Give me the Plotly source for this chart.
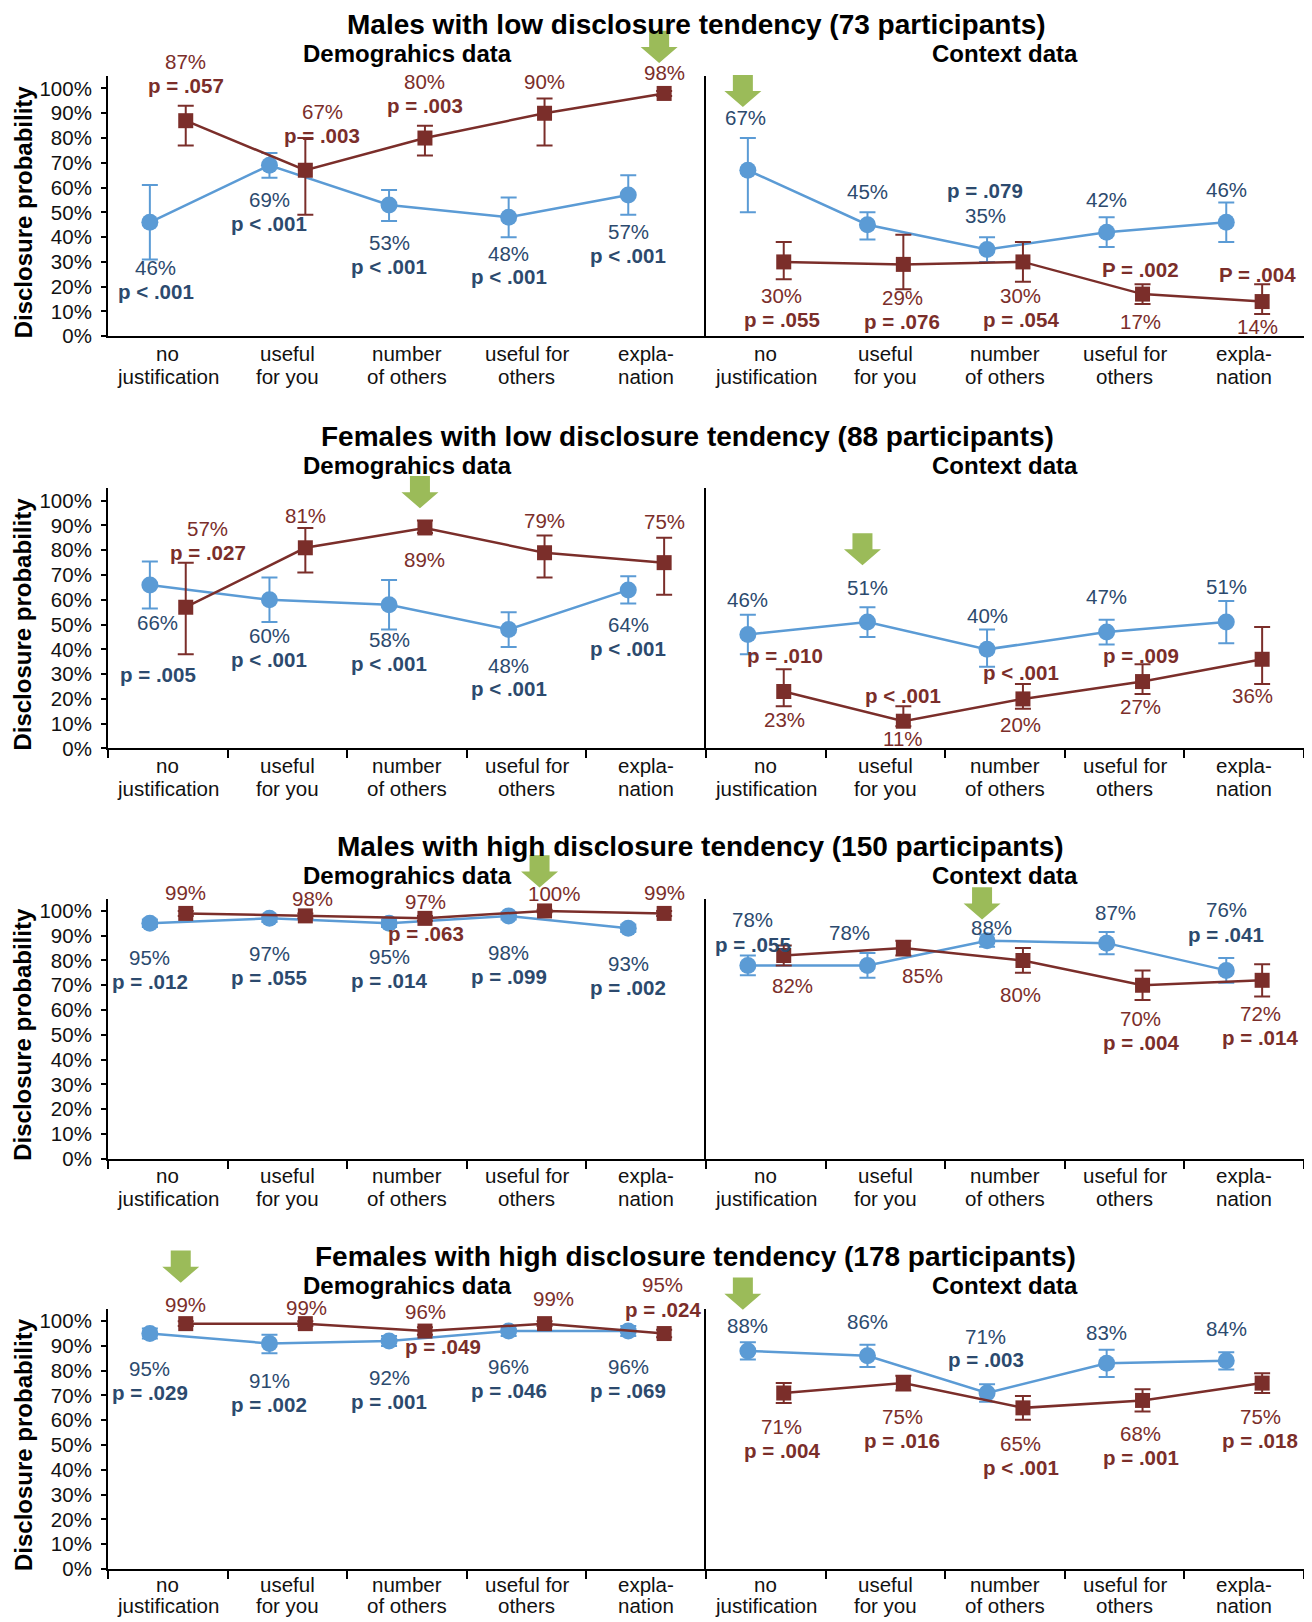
import plotly.graph_objects as go

# ---------------- data ----------------
CATEGORY_LINES = [("no", "justification"), ("useful", "for you"), ("number", "of others"),
                  ("useful for", "others"), ("expla-", "nation")]
PANEL_TITLES = ["Males with low disclosure tendency (73 participants)",
                "Females with low disclosure tendency (88 participants)",
                "Males with high disclosure tendency (150 participants)",
                "Females with high disclosure tendency (178 participants)"]
SUBTITLES = ["Demograhics data", "Context data"]
Y_TITLE = "Disclosure probability"
Y_TICKS = [0, 10, 20, 30, 40, 50, 60, 70, 80, 90, 100]

# Males, low disclosure tendency
ML_DEMO_BLUE = [46, 69, 53, 48, 57]
ML_DEMO_BLUE_UP = [15, 5, 6, 8, 8]
ML_DEMO_BLUE_DN = [15, 5, 6.5, 8, 8]
ML_DEMO_RED = [87, 67, 80, 90, 98]
ML_DEMO_RED_UP = [6, 13, 5, 6, 1]
ML_DEMO_RED_DN = [10, 18, 7, 13, 1]
ML_CTX_BLUE = [67, 45, 35, 42, 46]
ML_CTX_BLUE_UP = [13, 5, 5, 6, 8]
ML_CTX_BLUE_DN = [17, 6, 5, 6, 8]
ML_CTX_RED = [30, 29, 30, 17, 14]
ML_CTX_RED_UP = [8, 12, 8, 4, 7]
ML_CTX_RED_DN = [7, 10, 8, 4, 5]
ML_DEMO_BLUE_P = ["p < .001", "p < .001", "p < .001", "p < .001", "p < .001"]
ML_DEMO_RED_P = ["p = .057", "p = .003", "p = .003", None, None]
ML_CTX_BLUE_P = [None, None, "p = .079", None, None]
ML_CTX_RED_P = ["p = .055", "p = .076", "p = .054", "P = .002", "P = .004"]

# Females, low disclosure tendency
FL_DEMO_BLUE = [66, 60, 58, 48, 64]
FL_DEMO_BLUE_UP = [9.5, 9, 10, 7, 5.5]
FL_DEMO_BLUE_DN = [9.5, 9, 10, 7, 5.5]
FL_DEMO_RED = [57, 81, 89, 79, 75]
FL_DEMO_RED_UP = [18, 8, 3, 7, 10]
FL_DEMO_RED_DN = [19, 10, 2, 10, 13]
FL_CTX_BLUE = [46, 51, 40, 47, 51]
FL_CTX_BLUE_UP = [8, 6, 8, 5, 8.5]
FL_CTX_BLUE_DN = [8, 6, 7, 5, 8.5]
FL_CTX_RED = [23, 11, 20, 27, 36]
FL_CTX_RED_UP = [9, 6, 6, 7, 13]
FL_CTX_RED_DN = [6, 2, 4, 5, 10]
FL_DEMO_BLUE_P = ["p = .005", "p < .001", "p < .001", "p < .001", "p < .001"]
FL_DEMO_RED_P = ["p = .027", None, None, None, None]
FL_CTX_BLUE_P = [None, None, None, None, None]
FL_CTX_RED_P = ["p = .010", "p < .001", "p < .001", "p = .009", None]

# Males, high disclosure tendency
MH_DEMO_BLUE = [95, 97, 95, 98, 93]
MH_DEMO_BLUE_UP = [1.5, 1.5, 1.5, 1.5, 1.5]
MH_DEMO_BLUE_DN = [1.5, 1.5, 1.5, 1.5, 1.5]
MH_DEMO_RED = [99, 98, 97, 100, 99]
MH_DEMO_RED_UP = [1, 1, 1, 0.5, 1]
MH_DEMO_RED_DN = [1, 1, 1, 0.5, 1]
MH_CTX_BLUE = [78, 78, 88, 87, 76]
MH_CTX_BLUE_UP = [4, 5, 2.5, 4.5, 5]
MH_CTX_BLUE_DN = [4, 5, 2.5, 4.5, 5]
MH_CTX_RED = [82, 85, 80, 70, 72]
MH_CTX_RED_UP = [4, 3, 5, 6, 6.5]
MH_CTX_RED_DN = [4, 3, 5, 6, 6.5]
MH_DEMO_BLUE_P = ["p = .012", "p = .055", "p = .014", "p = .099", "p = .002"]
MH_DEMO_RED_P = [None, None, "p = .063", None, None]
MH_CTX_BLUE_P = ["p = .055", None, None, None, "p = .041"]
MH_CTX_RED_P = [None, None, None, "p = .004", "p = .014"]

# Females, high disclosure tendency
FH_DEMO_BLUE = [95, 91, 92, 96, 96]
FH_DEMO_BLUE_UP = [2, 3.5, 2, 2, 2]
FH_DEMO_BLUE_DN = [2, 4, 2, 2, 2]
FH_DEMO_RED = [99, 99, 96, 99, 95]
FH_DEMO_RED_UP = [1, 1, 1.5, 1, 1.5]
FH_DEMO_RED_DN = [1, 1, 1.5, 1, 1.5]
FH_CTX_BLUE = [88, 86, 71, 83, 84]
FH_CTX_BLUE_UP = [3.5, 4.5, 3.5, 5.5, 3.5]
FH_CTX_BLUE_DN = [3.5, 4.5, 3.5, 5.5, 3.5]
FH_CTX_RED = [71, 75, 65, 68, 75]
FH_CTX_RED_UP = [4, 3, 4.8, 4.5, 4]
FH_CTX_RED_DN = [4, 3, 4.8, 4.5, 4]
FH_DEMO_BLUE_P = ["p = .029", "p = .002", "p = .001", "p = .046", "p = .069"]
FH_DEMO_RED_P = [None, None, "p = .049", None, "p = .024"]
FH_CTX_BLUE_P = [None, None, "p = .003", None, None]
FH_CTX_RED_P = ["p = .004", "p = .016", "p < .001", "p = .001", "p = .018"]

# highlighted (best) condition per sub-chart: (panel, subplot, category index, series)
HIGHLIGHTS = [(0, 0, 4, "red"), (0, 1, 0, "blue"),
              (1, 0, 2, "red"), (1, 1, 1, "blue"),
              (2, 0, 3, "red"), (2, 1, 2, "blue"),
              (3, 0, 0, "red"), (3, 1, 0, "blue")]

PANELS = [
    {"demo": {"blue": (ML_DEMO_BLUE, ML_DEMO_BLUE_UP, ML_DEMO_BLUE_DN, ML_DEMO_BLUE_P),
              "red": (ML_DEMO_RED, ML_DEMO_RED_UP, ML_DEMO_RED_DN, ML_DEMO_RED_P)},
     "ctx": {"blue": (ML_CTX_BLUE, ML_CTX_BLUE_UP, ML_CTX_BLUE_DN, ML_CTX_BLUE_P),
             "red": (ML_CTX_RED, ML_CTX_RED_UP, ML_CTX_RED_DN, ML_CTX_RED_P)}},
    {"demo": {"blue": (FL_DEMO_BLUE, FL_DEMO_BLUE_UP, FL_DEMO_BLUE_DN, FL_DEMO_BLUE_P),
              "red": (FL_DEMO_RED, FL_DEMO_RED_UP, FL_DEMO_RED_DN, FL_DEMO_RED_P)},
     "ctx": {"blue": (FL_CTX_BLUE, FL_CTX_BLUE_UP, FL_CTX_BLUE_DN, FL_CTX_BLUE_P),
             "red": (FL_CTX_RED, FL_CTX_RED_UP, FL_CTX_RED_DN, FL_CTX_RED_P)}},
    {"demo": {"blue": (MH_DEMO_BLUE, MH_DEMO_BLUE_UP, MH_DEMO_BLUE_DN, MH_DEMO_BLUE_P),
              "red": (MH_DEMO_RED, MH_DEMO_RED_UP, MH_DEMO_RED_DN, MH_DEMO_RED_P)},
     "ctx": {"blue": (MH_CTX_BLUE, MH_CTX_BLUE_UP, MH_CTX_BLUE_DN, MH_CTX_BLUE_P),
             "red": (MH_CTX_RED, MH_CTX_RED_UP, MH_CTX_RED_DN, MH_CTX_RED_P)}},
    {"demo": {"blue": (FH_DEMO_BLUE, FH_DEMO_BLUE_UP, FH_DEMO_BLUE_DN, FH_DEMO_BLUE_P),
              "red": (FH_DEMO_RED, FH_DEMO_RED_UP, FH_DEMO_RED_DN, FH_DEMO_RED_P)},
     "ctx": {"blue": (FH_CTX_BLUE, FH_CTX_BLUE_UP, FH_CTX_BLUE_DN, FH_CTX_BLUE_P),
             "red": (FH_CTX_RED, FH_CTX_RED_UP, FH_CTX_RED_DN, FH_CTX_RED_P)}},
]

# ---------------- layout / style ----------------
PAGE_W = 1312
BODY_MARGIN = 8                       # default page margin around the plot div
Y_CORR = 1634 / 1622                  # vertical correction of the capture
W, H = PAGE_W - 2 * BODY_MARGIN, 1617
FONT = "Liberation Sans, Arial, Helvetica, sans-serif"
BLUE = "#5B9BD5"
RED = "#7B2E2A"
BLUE_TXT = "#2C4A6E"
RED_TXT = "#7B2E2A"
GREEN = "#9BBB59"
LABEL_SIZE = 20.5

# all pixel positions below are reference pixels (top-left of the picture)
PANEL_BOTTOM_PX = [336, 748, 1158, 1568]   # pixel row of the 0 % line
PANEL_TOP_PX = [76, 488, 898, 1308]        # pixel row of the 105 % line
Y_MAX = 105
X_LEFT_PX = [108, 706]
SUB_W_PX = 598
SERIES_OFFSET = {"blue": -0.15, "red": 0.15}
TITLE_X_PX = [696, 687, 700, 695]
TITLE_Y_PX = [24, 436, 846, 1256]
SUBTITLE_X_PX = [407, 1005]
SUBTITLE_Y_PX = [53, 465, 875, 1285]
ARROW_TIP_PX = [63, 107, 508, 565, 887, 919, 1282, 1309]
CAT_LINE_DY = [[17, 40], [17, 40], [17, 40], [15, 36]]

# label offsets in px relative to point: (dx_pct, dy_pct, dx_p, dy_p); +dy = downward
LABEL_OFFSETS = [
    {"demo": {"blue": [(6, 45, 6, 69), (0, 34, 0, 58), (0, 37, 0, 61), (0, 36, 0, 59), (0, 36, 0, 60)],
              "red": [(0, -59, 0, -35), (17, -58, 17, -34), (0, -56, 0, -32), (0, -32, 0, 0), (0, -21, 0, 0)]},
     "ctx": {"blue": [(-2, -52, 0, 0), (0, -33, 0, 0), (-2, -34, -2, -59), (0, -32, 0, 0), (0, -33, 0, 0)],
             "red": [(-2, 33, -2, 57), (-1, 33, -1, 57), (-2, 33, -2, 57), (-2, 27, -2, -24), (-5, 25, -5, -27)]}},
    {"demo": {"blue": [(8, 37, 8, 89), (0, 35, 0, 59), (0, 34, 0, 58), (0, 36, 0, 59), (0, 34, 0, 58)],
              "red": [(22, -78, 22, -54), (0, -32, 0, 0), (0, 31, 0, 0), (0, -32, 0, 0), (0, -41, 0, 0)]},
     "ctx": {"blue": [(0, -35, 0, 0), (0, -34, 0, 0), (0, -34, 0, 0), (0, -35, 0, 0), (0, -35, 0, 0)],
             "red": [(1, 28, 1, -36), (0, 17, 0, -26), (-2, 25, -2, -26), (-2, 25, -2, -26), (-10, 36, 0, 0)]}},
    {"demo": {"blue": [(0, 34, 0, 58), (0, 35, 0, 59), (0, 33, 0, 57), (0, 36, 0, 60), (0, 35, 0, 59)],
              "red": [(0, -21, 0, 0), (7, -17, 0, 0), (1, -17, 1, 15), (9, -17, 0, 0), (0, -21, 0, 0)]},
     "ctx": {"blue": [(5, -46, 5, -21), (-18, -33, 0, 0), (4, -13, 0, 0), (9, -30, 0, 0), (0, -60, 0, -36)],
             "red": [(9, 30, 0, 0), (19, 27, 0, 0), (-2, 34, 0, 0), (-2, 33, -2, 57), (-2, 33, -2, 57)]}},
    {"demo": {"blue": [(0, 35, 0, 59), (0, 37, 0, 61), (0, 36, 0, 60), (0, 35, 0, 59), (0, 35, 0, 59)],
              "red": [(0, -19, 0, 0), (1, -16, 0, 0), (1, -19, 18, 15), (9, -25, 0, 0), (-2, -49, -1, -24)]},
     "ctx": {"blue": [(0, -25, 0, 0), (0, -34, 0, 0), (-2, -56, -1, -33), (0, -31, 0, 0), (0, -32, 0, 0)],
             "red": [(-2, 33, -2, 57), (-1, 33, -1, 57), (-2, 35, -2, 59), (-2, 33, -2, 57), (-2, 33, -2, 57)]}},
]


def py(px):
    return 1 - (px * Y_CORR - BODY_MARGIN) / H


def px_x(px):
    return (px - BODY_MARGIN) / W


def vs(d):
    return d * Y_CORR


fig = go.Figure()
annotations = []
shapes = []
layout_axes = {}

for p, panel in enumerate(PANELS):
    bottom = PANEL_BOTTOM_PX[p]
    top = PANEL_TOP_PX[p]
    y100 = bottom - (bottom - top) * 100 / Y_MAX
    for s, key in enumerate(["demo", "ctx"]):
        n = p * 2 + s + 1
        xa = "x" if n == 1 else f"x{n}"
        ya = "y" if n == 1 else f"y{n}"
        xname = "xaxis" if n == 1 else f"xaxis{n}"
        yname = "yaxis" if n == 1 else f"yaxis{n}"
        x0 = X_LEFT_PX[s]
        xaxis = dict(domain=[px_x(x0), min(1.0, px_x(x0 + SUB_W_PX))], range=[0, 5], anchor=ya,
                     showgrid=False, zeroline=False, showline=True, linecolor="black", linewidth=2,
                     tickvals=[i + 0.5 for i in range(5)], ticks="", showticklabels=False,
                     fixedrange=True)
        if p > 0:
            xaxis["minor"] = dict(tickvals=[0, 1, 2, 3, 4, 5], ticks="outside", ticklen=8,
                                  tickwidth=2, tickcolor="black", showgrid=False)
        yaxis = dict(domain=[py(bottom), py(top)], range=[0, Y_MAX], anchor=xa,
                     showgrid=False, zeroline=False, showline=True, linecolor="black", linewidth=2,
                     fixedrange=True)
        if s == 0:
            yaxis.update(tickvals=Y_TICKS, ticktext=[f"{v}%" for v in Y_TICKS], ticks="outside",
                         ticklen=5, tickwidth=1.5, tickcolor="black",
                         tickfont=dict(family=FONT, size=20.5, color="#111111"), ticklabelstandoff=5)
        else:
            yaxis.update(showticklabels=False, ticks="")
        layout_axes[xname] = xaxis
        layout_axes[yname] = yaxis

        # category labels (two lines) under the axis
        for i, (l1, l2) in enumerate(CATEGORY_LINES):
            for line_txt, dy in zip((l1, l2), CAT_LINE_DY[p]):
                annotations.append(dict(x=i + 0.5, y=0, xref=xa, yref=ya, text=line_txt,
                                        showarrow=False, yshift=-vs(dy), xanchor="center",
                                        yanchor="middle",
                                        font=dict(family=FONT, size=LABEL_SIZE, color="#111111")))

        for series in ["blue", "red"]:
            vals, up, dn, pvals = panel[key][series]
            xs = [i + 0.5 + SERIES_OFFSET[series] for i in range(len(vals))]
            color = BLUE if series == "blue" else RED
            fig.add_trace(go.Scatter(
                x=xs, y=vals, xaxis=xa, yaxis=ya, mode="lines+markers",
                line=dict(color=color, width=2.5),
                marker=dict(color=color, size=17 if series == "blue" else 15,
                            symbol="circle" if series == "blue" else "square"),
                error_y=dict(type="data", symmetric=False, array=up, arrayminus=dn,
                             color=color, thickness=2, width=8),
                showlegend=False, hoverinfo="skip", cliponaxis=False))
            txt_color = BLUE_TXT if series == "blue" else RED_TXT
            offs = LABEL_OFFSETS[p][key][series]
            for i, v in enumerate(vals):
                dxa, dya, dxp, dyp = offs[i]
                annotations.append(dict(
                    x=xs[i], y=v, xref=xa, yref=ya, text=f"{v}%", showarrow=False,
                    xshift=dxa, yshift=-vs(dya), xanchor="center", yanchor="middle",
                    font=dict(family=FONT, size=LABEL_SIZE, color=txt_color)))
                if pvals[i]:
                    annotations.append(dict(
                        x=xs[i], y=v, xref=xa, yref=ya, text=f"<b>{pvals[i]}</b>", showarrow=False,
                        xshift=dxp, yshift=-vs(dyp), xanchor="center", yanchor="middle",
                        font=dict(family=FONT, size=LABEL_SIZE, color=txt_color)))

        # subtitle
        annotations.append(dict(x=px_x(SUBTITLE_X_PX[s]), y=py(SUBTITLE_Y_PX[p]), xref="paper", yref="paper",
                                text=f"<b>{SUBTITLES[s]}</b>", showarrow=False,
                                xanchor="center", yanchor="middle",
                                font=dict(family=FONT, size=24, color="black")))

    # panel title
    annotations.append(dict(x=px_x(TITLE_X_PX[p]), y=py(TITLE_Y_PX[p]), xref="paper", yref="paper",
                            text=f"<b>{PANEL_TITLES[p]}</b>", showarrow=False,
                            xanchor="center", yanchor="middle",
                            font=dict(family=FONT, size=28, color="black")))
    # y-axis title
    annotations.append(dict(x=px_x(23), y=py((bottom + y100) / 2), xref="paper", yref="paper",
                            text=f"<b>{Y_TITLE}</b>", showarrow=False, textangle=-90,
                            xanchor="center", yanchor="middle",
                            font=dict(family=FONT, size=24, color="black")))

# green arrows marking the highlighted condition
for k, (p, s, cat, series) in enumerate(HIGHLIGHTS):
    n = p * 2 + s + 1
    xa = "x" if n == 1 else f"x{n}"
    xc = cat + 0.5 + SERIES_OFFSET[series]
    dx = -5
    path = (f"M {dx-10},{vs(32)} L {dx+10},{vs(32)} L {dx+10},{vs(16)} L {dx+18.5},{vs(16)} "
            f"L {dx},0 L {dx-18.5},{vs(16)} L {dx-10},{vs(16)} Z")
    shapes.append(dict(type="path", xref=xa, yref="paper", xsizemode="pixel", ysizemode="pixel",
                       xanchor=xc, yanchor=py(ARROW_TIP_PX[k]), path=path,
                       fillcolor=GREEN, line=dict(width=0), layer="above"))

fig.update_layout(width=W, height=H, margin=dict(l=0, r=0, t=0, b=0),
                  plot_bgcolor="white", paper_bgcolor="white",
                  annotations=annotations, shapes=shapes, **layout_axes)

fig.write_html("out.html")
